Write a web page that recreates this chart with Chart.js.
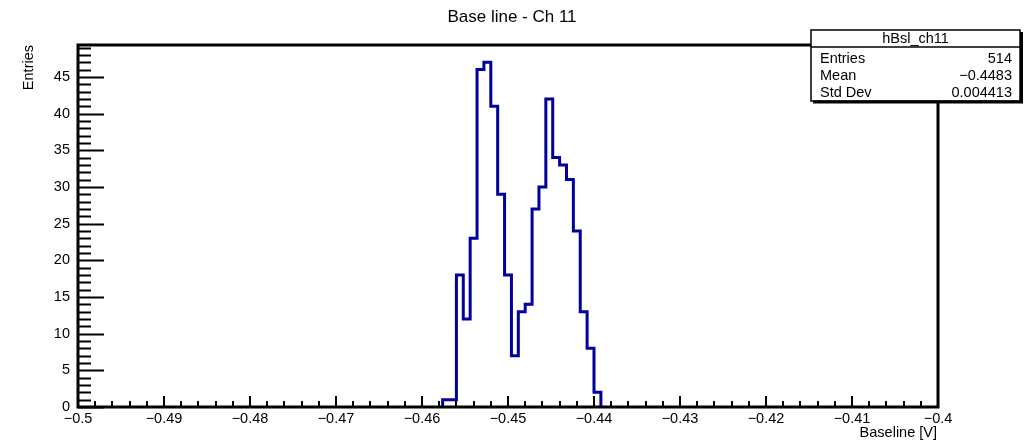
<!DOCTYPE html>
<html>
<head>
<meta charset="utf-8">
<script src="https://cdn.jsdelivr.net/npm/chart.js@4"></script>
<style>
  html, body { margin: 0; padding: 0; background: #fff; }
  canvas { display: block; }
</style>
</head>
<body>
<canvas id="hist" width="1024" height="442"></canvas>
<script>
// Histogram definition (ROOT TH1: 125 bins on [-0.5, -0.4])
const xMin = -0.5;
const xMax = -0.4;
const nBins = 125;
const yMax = 49.35;

// Non-empty bins start at bin index 53
const firstBin = 53;
const counts = [1, 1, 18, 12, 23, 46, 47, 41, 29, 18, 7, 13, 14, 27, 30, 42, 34, 33, 31, 24, 13, 8, 2];

// Stats box
const histName = 'hBsl_ch11';
const statLabels = ['Entries', 'Mean', 'Std Dev'];
const statValues = ['514', '\u22120.4483', '0.004413'];

const titleText = 'Base line - Ch 11';
const xTitle = 'Baseline [V]';
const yTitle = 'Entries';

const FONT = "'Liberation Sans', Arial, Helvetica, sans-serif";
const TXT = 14.5;
Chart.defaults.font.family = FONT;
Chart.defaults.color = '#000';

// Build step outline points from the bin contents
const binW = (xMax - xMin) / nBins;
const points = [{ x: xMin + firstBin * binW, y: 0 }];
counts.forEach((c, i) => points.push({ x: xMin + (firstBin + i) * binW, y: c }));
points.push({ x: xMin + (firstBin + counts.length) * binW, y: 0 });

function fmt(v) {
    const r = Math.round(v * 100) / 100;
    return String(r).replace('-', '\u2212');
}

// Frame, inward ticks, titles and stats box (ROOT style)
const rootDeco = {
    id: 'rootDeco',
    afterDatasetsDraw(chart) {
        const { ctx, chartArea: a, scales: { x, y } } = chart;
        ctx.save();
        ctx.strokeStyle = '#000';
        ctx.lineWidth = 2;
        ctx.beginPath();
        // y axis ticks
        for (let v = 0; v <= yMax; v += 1) {
            const py = Math.round(y.getPixelForValue(v)) + 0.5;
            const len = v % 5 === 0 ? 26 : 13;
            ctx.moveTo(a.left, py);
            ctx.lineTo(a.left + len, py);
        }
        // x axis ticks
        for (let k = 0; k <= 50; k++) {
            const px = Math.round(x.getPixelForValue(xMin + k * 0.002));
            const len = k % 5 === 0 ? 11 : 6;
            ctx.moveTo(px, a.bottom);
            ctx.lineTo(px, a.bottom - len);
        }
        ctx.stroke();

        // frame
        ctx.lineWidth = 3;
        ctx.strokeRect(a.left, a.top, a.right - a.left, a.bottom - a.top);
        ctx.restore();
    },
    afterDraw(chart) {
        const { ctx, chartArea: a } = chart;
        ctx.save();
        ctx.fillStyle = '#000';

        // title
        ctx.font = '17px ' + FONT;
        ctx.textAlign = 'center';
        ctx.textBaseline = 'middle';
        ctx.fillText(titleText, 512, 17);

        // axis titles
        ctx.font = TXT + 'px ' + FONT;
        ctx.textAlign = 'right';
        ctx.textBaseline = 'alphabetic';
        ctx.fillText(xTitle, a.right - 1, 437);

        ctx.save();
        ctx.translate(33, a.top);
        ctx.rotate(-Math.PI / 2);
        ctx.textAlign = 'right';
        ctx.fillText(yTitle, 0, 0);
        ctx.restore();

        // stats box
        const bx = 811, by = 30, bw = 209, bh = 71;
        ctx.fillStyle = '#fff';
        ctx.fillRect(bx, by, bw, bh);
        ctx.strokeStyle = '#000';
        ctx.lineWidth = 1.5;
        ctx.strokeRect(bx, by, bw, bh);
        ctx.lineWidth = 3;
        ctx.beginPath();
        ctx.moveTo(bx + 2, by + bh + 1);
        ctx.lineTo(bx + bw + 1.5, by + bh + 1);
        ctx.lineTo(bx + bw + 1.5, by + 2);
        ctx.stroke();
        ctx.lineWidth = 1.5;
        ctx.beginPath();
        ctx.moveTo(bx, by + 17);
        ctx.lineTo(bx + bw, by + 17);
        ctx.stroke();

        ctx.fillStyle = '#000';
        ctx.font = TXT + 'px ' + FONT;
        ctx.textBaseline = 'middle';
        ctx.textAlign = 'center';
        ctx.fillText(histName, bx + bw / 2, by + 9);
        statLabels.forEach((lab, i) => {
            const ty = by + 29 + i * 17;
            ctx.textAlign = 'left';
            ctx.fillText(lab, bx + 9, ty);
            ctx.textAlign = 'right';
            ctx.fillText(statValues[i], bx + bw - 8, ty);
        });
        ctx.restore();
    }
};

new Chart(document.getElementById('hist').getContext('2d'), {
    type: 'line',
    data: {
        datasets: [{
            data: points,
            stepped: 'before',
            borderColor: '#00009c',
            borderWidth: 3,
            pointRadius: 0,
            fill: false,
            tension: 0
        }]
    },
    options: {
        responsive: false,
        animation: false,
        devicePixelRatio: 1,
        layout: { padding: { left: 0, top: 45, right: 86, bottom: 0 } },
        plugins: {
            legend: { display: false },
            tooltip: { enabled: false },
            title: { display: false }
        },
        scales: {
            x: {
                type: 'linear',
                min: xMin,
                max: xMax,
                grid: { display: false, drawTicks: false },
                border: { display: false },
                ticks: {
                    stepSize: 0.01,
                    includeBounds: false,
                    autoSkip: false,
                    maxRotation: 0,
                    padding: 3,
                    font: { size: TXT },
                    callback: v => fmt(v)
                },
                afterFit: s => { s.height = 35; }
            },
            y: {
                min: 0,
                max: yMax,
                grid: { display: false, drawTicks: false },
                border: { display: false },
                ticks: {
                    stepSize: 5,
                    includeBounds: false,
                    padding: 8,
                    font: { size: TXT },
                    callback: v => String(v)
                },
                afterFit: s => { s.width = 78; }
            }
        }
    },
    plugins: [rootDeco]
});
</script>
</body>
</html>
